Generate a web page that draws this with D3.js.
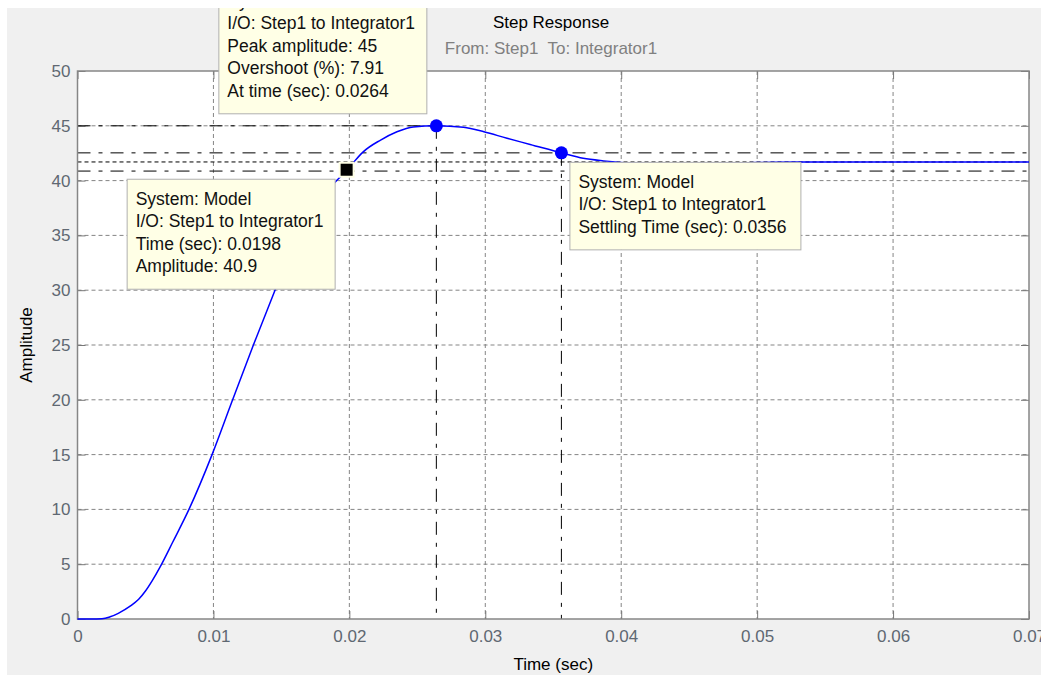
<!DOCTYPE html>
<html>
<head>
<meta charset="utf-8">
<script src="https://cdn.jsdelivr.net/npm/d3@7"></script>
<style>
  body { margin: 0; background: #fff; }
  text { font-family: "Liberation Sans", Arial, sans-serif; }
</style>
</head>
<body>
<script>
// step response (time in sec, amplitude)
var times = [0, 0.001, 0.0018, 0.0024, 0.003, 0.0039, 0.0045, 0.005, 0.0055, 0.0061, 0.007, 0.0082,
  0.0099, 0.01135, 0.01294, 0.01453, 0.0155, 0.0165, 0.0175, 0.0185, 0.0191, 0.0198, 0.0204, 0.021,
  0.0223, 0.0235, 0.0247, 0.0264, 0.0284, 0.0299, 0.0316, 0.0333, 0.0356, 0.0372, 0.0387, 0.041,
  0.044, 0.048, 0.053, 0.06, 0.07];
var amplitude = [0, 0, 0.02, 0.2, 0.52, 1.19, 1.8, 2.55, 3.5, 4.8, 7.0, 10, 15, 19.8, 25, 30, 33.0,
  35.4, 37.5, 39.2, 40.05, 40.9, 41.8, 42.6, 43.7, 44.46, 44.9, 45.0, 44.86, 44.46, 43.86, 43.3,
  42.53, 42.03, 41.8, 41.6, 41.55, 41.6, 41.7, 41.7, 41.7];

var xTicks = [0, 0.01, 0.02, 0.03, 0.04, 0.05, 0.06, 0.07];
var xTickLabels = ["0", "0.01", "0.02", "0.03", "0.04", "0.05", "0.06", "0.07"];
var yTicks = [0, 5, 10, 15, 20, 25, 30, 35, 40, 45, 50];

// characteristics
var peakTime = 0.0264, peakAmp = 45;
var settleTime = 0.0356, settleAmp = 42.53;
var finalValue = 41.7;
var bandHigh = 42.53, bandLow = 40.87;
var tipTime = 0.0198, tipAmp = 40.9;

var peakTip = ["System: Model", "I/O: Step1 to Integrator1", "Peak amplitude: 45", "Overshoot (%): 7.91", "At time (sec): 0.0264"];
var pointTip = ["System: Model", "I/O: Step1 to Integrator1", "Time (sec): 0.0198", "Amplitude: 40.9"];
var settleTip = ["System: Model", "I/O: Step1 to Integrator1", "Settling Time (sec): 0.0356"];

var W = 1041, H = 675;
var svg = d3.select("body").append("svg")
  .attr("width", W)
  .attr("height", H);

var fig = svg.append("g");
fig.append("rect").attr("x", 7).attr("y", 8).attr("width", W - 7).attr("height", H - 8).attr("fill", "#f0f0f0");

var x = d3.scaleLinear().domain([0, 0.07]).range([77.5, 1029]);
var y = d3.scaleLinear().domain([0, 50]).range([619, 71]);

fig.append("rect")
  .attr("x", x(0)).attr("y", y(50))
  .attr("width", x(0.07) - x(0)).attr("height", y(0) - y(50))
  .attr("fill", "#fff");

// grid
fig.append("g").selectAll("line")
  .data(xTicks.slice(1, -1))
  .join("line")
  .attr("x1", d => x(d)).attr("x2", d => x(d))
  .attr("y1", y(50)).attr("y2", y(0))
  .attr("stroke", "#858585").attr("stroke-dasharray", "4,3");
fig.append("g").selectAll("line")
  .data(yTicks.slice(1, -1))
  .join("line")
  .attr("y1", d => y(d)).attr("y2", d => y(d))
  .attr("x1", x(0)).attr("x2", x(0.07))
  .attr("stroke", "#858585").attr("stroke-dasharray", "4,3");

// axes
var xAxis = fig.append("g")
  .attr("transform", `translate(0,${y(0)})`)
  .call(d3.axisBottom(x).tickValues(xTicks).tickFormat((d, i) => xTickLabels[i]).tickSizeInner(-8).tickSizeOuter(0).tickPadding(11));
var yAxis = fig.append("g")
  .attr("transform", `translate(${x(0)},0)`)
  .call(d3.axisLeft(y).tickValues(yTicks).tickSizeInner(-8).tickSizeOuter(0).tickPadding(7));
var topAxis = fig.append("g")
  .attr("transform", `translate(0,${y(50)})`)
  .call(d3.axisTop(x).tickValues(xTicks).tickFormat("").tickSizeInner(-8).tickSizeOuter(0));
var rightAxis = fig.append("g")
  .attr("transform", `translate(${x(0.07)},0)`)
  .call(d3.axisRight(y).tickValues(yTicks).tickFormat("").tickSizeInner(-8).tickSizeOuter(0));

[xAxis, yAxis, topAxis, rightAxis].forEach(function(a) {
  a.select(".domain").remove();
  a.selectAll(".tick line").attr("stroke", "#777");
  a.selectAll(".tick text").attr("fill", "#5f6872").style("font-size", "17px")
    .style("font-family", "'Liberation Sans', Arial, sans-serif");
});

// characteristic lines
var dashDot = "13,8,4,8";
fig.append("line")
  .attr("x1", x(0)).attr("x2", x(0.07)).attr("y1", y(bandHigh)).attr("y2", y(bandHigh))
  .attr("stroke", "#000").attr("stroke-dasharray", dashDot);
fig.append("line")
  .attr("x1", x(0)).attr("x2", x(0.07)).attr("y1", y(bandLow)).attr("y2", y(bandLow))
  .attr("stroke", "#000").attr("stroke-dasharray", dashDot);
fig.append("line")
  .attr("x1", x(0)).attr("x2", x(0.07)).attr("y1", y(finalValue)).attr("y2", y(finalValue))
  .attr("stroke", "#000").attr("stroke-dasharray", "4,3");
fig.append("line")
  .attr("x1", x(0)).attr("x2", x(peakTime)).attr("y1", y(peakAmp)).attr("y2", y(peakAmp))
  .attr("stroke", "#000").attr("stroke-dasharray", dashDot);
fig.append("line")
  .attr("x1", x(peakTime)).attr("x2", x(peakTime)).attr("y1", y(peakAmp)).attr("y2", y(0))
  .attr("stroke", "#000").attr("stroke-dasharray", dashDot);
fig.append("line")
  .attr("x1", x(settleTime)).attr("x2", x(settleTime)).attr("y1", y(settleAmp)).attr("y2", y(0))
  .attr("stroke", "#000").attr("stroke-dasharray", dashDot);

// border
fig.append("rect")
  .attr("x", x(0)).attr("y", y(50))
  .attr("width", x(0.07) - x(0)).attr("height", y(0) - y(50))
  .attr("fill", "none").attr("stroke", "#868686").attr("stroke-width", 1.5);

// response
var line = d3.line()
  .x((d, i) => x(times[i]))
  .y(d => y(d))
  .curve(d3.curveMonotoneX);
fig.append("path")
  .datum(amplitude)
  .attr("d", line)
  .attr("fill", "none")
  .attr("stroke", "#0000ff")
  .attr("stroke-width", 1.5);

// markers
fig.append("circle").attr("cx", x(peakTime)).attr("cy", y(peakAmp)).attr("r", 6.5).attr("fill", "#0000ff");
fig.append("circle").attr("cx", x(settleTime)).attr("cy", y(settleAmp)).attr("r", 6.5).attr("fill", "#0000ff");
fig.append("rect")
  .attr("x", x(tipTime) - 7).attr("y", y(tipAmp) - 8)
  .attr("width", 14).attr("height", 14)
  .attr("fill", "#000").attr("stroke", "#ffffe6").attr("stroke-width", 2);

// data tips
function dataTip(lines, left, top, width) {
  var g = fig.append("g");
  var h = lines.length * 22.5 + 20;
  g.append("rect")
    .attr("x", left + 0.5).attr("y", top + 0.5)
    .attr("width", width).attr("height", h)
    .attr("fill", "#ffffe6").attr("stroke", "#b0b0b0");
  g.selectAll("text")
    .data(lines)
    .join("text")
    .attr("x", left + 9)
    .attr("y", (d, i) => top + 26 + i * 22.5)
    .attr("fill", "#111")
    .style("font-size", "17.5px")
    .text(d => d);
}
dataTip(peakTip, x(peakTime) - 218, y(peakAmp) - 145, 208);
dataTip(pointTip, x(tipTime) - 220, y(tipAmp) + 8, 208);
dataTip(settleTip, x(settleTime) + 8, y(settleAmp) + 9, 231);

// titles
fig.append("text")
  .attr("x", 551).attr("y", 28)
  .attr("text-anchor", "middle")
  .attr("fill", "#000")
  .style("font-size", "17px")
  .text("Step Response");
fig.append("text")
  .attr("x", 551).attr("y", 54)
  .attr("text-anchor", "middle")
  .attr("fill", "#808080")
  .style("font-size", "17px")
  .style("white-space", "pre")
  .text("From: Step1  To: Integrator1");
fig.append("text")
  .attr("x", (x(0) + x(0.07)) / 2).attr("y", 670)
  .attr("text-anchor", "middle")
  .attr("fill", "#000")
  .style("font-size", "17px")
  .text("Time (sec)");
fig.append("text")
  .attr("transform", `translate(32,${(y(0) + y(50)) / 2}) rotate(-90)`)
  .attr("text-anchor", "middle")
  .attr("fill", "#000")
  .style("font-size", "17px")
  .text("Amplitude");

// the screenshot is cropped at the top and left edges
svg.append("rect").attr("x", 0).attr("y", 0).attr("width", W).attr("height", 8).attr("fill", "#fff");
svg.append("rect").attr("x", 0).attr("y", 0).attr("width", 7).attr("height", H).attr("fill", "#fff");
</script>
</body>
</html>
